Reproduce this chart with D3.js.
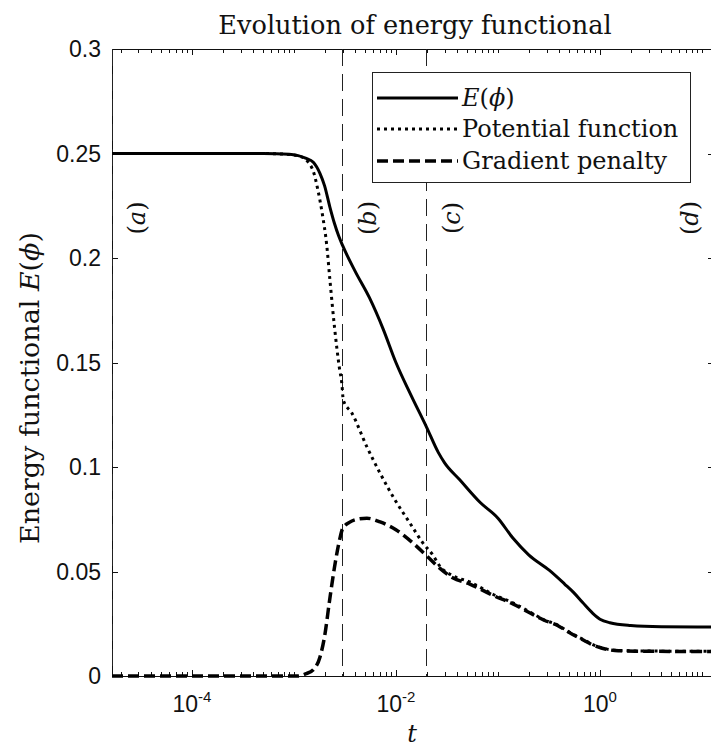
<!DOCTYPE html>
<html><head><meta charset="utf-8">
<script src="https://cdn.jsdelivr.net/npm/d3@7"></script>
<style>body{margin:0;background:#fff}svg{display:block}</style>
</head><body><svg id="c" width="711" height="747"></svg>
<script>
// ---------- data ----------
const titleText = "Evolution of energy functional";
const xLabelText = "t";
const yLabelText = "Energy functional ";
const yTicks = [0, 0.05, 0.1, 0.15, 0.2, 0.25, 0.3];
const yTickLabels = ["0", "0.05", "0.1", "0.15", "0.2", "0.25", "0.3"];
const xTicks = [1e-4, 1e-2, 1];
const xTickExps = ["-4", "-2", "0"];
const xDomain = [1.65e-5, 13.1];
const yDomain = [0, 0.3];
const stageT = [1.65e-5, 3.0e-3, 2.0e-2, 13.1];
const stageLabels = ["a", "b", "c", "d"];
const seriesNames = ["E(ϕ)", "Potential function", "Gradient penalty"];

const tE = [1.65e-5, 1e-4, 5e-4, 9e-4, 1.1e-3, 1.3e-3, 1.55e-3, 1.8e-3, 2.0e-3, 2.25e-3, 2.5e-3, 2.75e-3, 3.0e-3, 4.0e-3, 5.5e-3, 7.5e-3, 1.0e-2, 1.4e-2, 2.0e-2, 2.6e-2, 3.0e-2, 4.2e-2, 6.7e-2, 0.1, 0.14, 0.2, 0.32, 0.45, 0.55, 0.68, 0.85, 1.0, 1.25, 2.0, 4.0, 13.1];
const vE = [0.25, 0.25, 0.25, 0.2497, 0.249, 0.2478, 0.2458, 0.2405, 0.2345, 0.2245, 0.2165, 0.2105, 0.2060, 0.1935, 0.181, 0.166, 0.150, 0.1345, 0.119, 0.107, 0.102, 0.094, 0.083, 0.0755, 0.066, 0.058, 0.0505, 0.044, 0.040, 0.035, 0.030, 0.0272, 0.0255, 0.0242, 0.0236, 0.0234];

const tP = [1.65e-5, 1e-4, 5e-4, 9e-4, 1.2e-3, 1.4e-3, 1.55e-3, 1.72e-3, 1.9e-3, 2.1e-3, 2.25e-3, 2.5e-3, 2.8e-3, 2.95e-3, 3.05e-3, 3.7e-3, 5.2e-3, 7.0e-3, 9.8e-3, 1.37e-2, 1.84e-2, 2.3e-2, 2.7e-2, 3.6e-2, 5.3e-2, 9e-2, 0.14, 0.2, 0.28, 0.38, 0.5, 0.7, 0.85, 1.05, 1.4, 2.2, 13.1];
const vP = [0.25, 0.25, 0.25, 0.2495, 0.2483, 0.2455, 0.2415, 0.2325, 0.221, 0.206, 0.19, 0.167, 0.147, 0.140, 0.132, 0.1258, 0.1096, 0.097, 0.0842, 0.0732, 0.0636, 0.0579, 0.0525, 0.048, 0.045, 0.039, 0.035, 0.031, 0.027, 0.0245, 0.021, 0.0172, 0.015, 0.0134, 0.0123, 0.012, 0.0118];

const tG = [1.65e-5, 1e-4, 5e-4, 1.1e-3, 1.3e-3, 1.55e-3, 1.8e-3, 2.0e-3, 2.25e-3, 2.5e-3, 2.8e-3, 3.0e-3, 3.5e-3, 4.2e-3, 5.2e-3, 7.0e-3, 1.0e-2, 1.47e-2, 2.0e-2, 2.7e-2, 3.6e-2, 5.3e-2, 9e-2, 0.14, 0.2, 0.28, 0.38, 0.5, 0.7, 0.85, 1.05, 1.4, 2.2, 13.1];
const vG = [0, 0, 0, 0, 0.001, 0.003, 0.009, 0.019, 0.037, 0.052, 0.065, 0.0705, 0.0735, 0.075, 0.0755, 0.0737, 0.070, 0.0636, 0.0575, 0.0515, 0.047, 0.044, 0.0385, 0.0345, 0.0305, 0.0268, 0.0243, 0.0208, 0.017, 0.0148, 0.0133, 0.0122, 0.0119, 0.0117];

// ---------- layout ----------
const m = {l: 112, t: 49, r: 714, b: 676};
const serif = "'DejaVu Serif', serif";
const sans = "'Liberation Sans', Arial, sans-serif";
const ink = "#111";

const x = d3.scaleLog().domain(xDomain).range([m.l, m.r]);
const y = d3.scaleLinear().domain(yDomain).range([m.b, m.t]);
const svg = d3.select("#c");

svg.append("rect").attr("width", 711).attr("height", 747).attr("fill", "#fff");
svg.append("defs").append("clipPath").attr("id", "clip")
  .append("rect").attr("x", m.l).attr("y", m.t - 2).attr("width", m.r - m.l).attr("height", m.b - m.t + 4);

// minor log ticks
const minor = [];
for (let d = -5; d <= 1; d++) for (let k = 1; k <= 9; k++) {
  const v = k * Math.pow(10, d);
  if (v >= xDomain[0] && v <= xDomain[1] && !xTicks.some(t => Math.abs(t - v) / v < 1e-9)) minor.push(v);
}

function styleAxis(g) {
  g.selectAll("path,line").attr("stroke", ink).attr("stroke-width", 1).attr("shape-rendering", "crispEdges");
  g.selectAll("text").remove();
}
svg.append("g").attr("transform", `translate(0,${m.b})`)
  .call(d3.axisBottom(x).tickValues(xTicks).tickSize(-6).tickSizeOuter(0)).call(styleAxis);
svg.append("g").attr("transform", `translate(0,${m.b})`)
  .call(d3.axisBottom(x).tickValues(minor).tickSize(-4).tickSizeOuter(0)).call(styleAxis);
svg.append("g").attr("transform", `translate(0,${m.t})`)
  .call(d3.axisTop(x).tickValues(xTicks).tickSize(-6).tickSizeOuter(0)).call(styleAxis);
svg.append("g").attr("transform", `translate(0,${m.t})`)
  .call(d3.axisTop(x).tickValues(minor).tickSize(-4).tickSizeOuter(0)).call(styleAxis);
svg.append("g").attr("transform", `translate(${m.l},0)`)
  .call(d3.axisLeft(y).tickValues(yTicks).tickSize(-6).tickSizeOuter(0)).call(styleAxis);
svg.append("g").attr("transform", `translate(${m.r},0)`)
  .call(d3.axisRight(y).tickValues(yTicks).tickSize(-6).tickSizeOuter(0)).call(styleAxis);

// y tick labels
svg.append("g").selectAll("text").data(yTicks).join("text")
  .attr("x", m.l - 11).attr("y", d => y(d)).attr("dy", "0.36em")
  .attr("text-anchor", "end").attr("font-family", sans).attr("font-size", 23).attr("fill", ink)
  .text((d, i) => yTickLabels[i]);

// x tick labels with superscripts
const xl = svg.append("g").selectAll("text").data(xTicks).join("text")
  .attr("x", d => x(d)).attr("y", m.b + 36)
  .attr("text-anchor", "middle").attr("font-family", sans).attr("font-size", 23).attr("fill", ink);
xl.append("tspan").text("10");
xl.append("tspan").attr("dy", -10).attr("font-size", 15).text((d, i) => xTickExps[i]);

// stage dashed lines
svg.append("g").selectAll("line").data(stageT).join("line")
  .attr("x1", d => x(d)).attr("x2", d => x(d)).attr("y1", m.t).attr("y2", m.b)
  .attr("stroke", "#222").attr("stroke-width", 1).attr("stroke-dasharray", "17,8")
  .attr("shape-rendering", "crispEdges");

// stage labels
const sl = svg.append("g").selectAll("text").data(stageT).join("text")
  .attr("transform", (d, i) => `translate(${x(d) + (i === stageT.length - 1 ? -24 : 25)},218) rotate(-90)`)
  .attr("text-anchor", "middle").attr("dy", "0.35em")
  .attr("font-family", serif).attr("font-size", 24).attr("fill", ink);
sl.append("tspan").text("(");
sl.append("tspan").attr("font-style", "italic").text((d, i) => stageLabels[i]);
sl.append("tspan").text(")");

// series
const series = [
  {t: tE, v: vE, w: 3, dash: null},
  {t: tP, v: vP, w: 3, dash: "3,4"},
  {t: tG, v: vG, w: 3.5, dash: "11,5"}
];
const line = d3.line().x(d => x(d[0])).y(d => y(d[1])).curve(d3.curveMonotoneX);
const lg = svg.append("g").attr("clip-path", "url(#clip)");
series.forEach(s => {
  lg.append("path").datum(s.t.map((t, i) => [t, s.v[i]]))
    .attr("d", line).attr("fill", "none").attr("stroke", "#000")
    .attr("stroke-width", s.w).attr("stroke-dasharray", s.dash);
});

// legend
const leg = svg.append("g").attr("transform", "translate(372,72)");
leg.append("rect").attr("width", 318).attr("height", 110).attr("fill", "#fff")
  .attr("stroke", "#222").attr("stroke-width", 1).attr("shape-rendering", "crispEdges");
const rowsY = [26, 57, 89];
series.forEach((s, i) => {
  leg.append("line").attr("x1", 5).attr("x2", 86).attr("y1", rowsY[i]).attr("y2", rowsY[i])
    .attr("stroke", "#000").attr("stroke-width", s.w).attr("stroke-dasharray", s.dash);
  const t = leg.append("text").attr("x", 90).attr("y", rowsY[i] + 8)
    .attr("font-family", serif).attr("font-size", 24).attr("fill", ink);
  if (i === 0) {
    t.append("tspan").attr("font-style", "italic").text("E");
    t.append("tspan").text("(");
    t.append("tspan").attr("font-style", "italic").text("ϕ");
    t.append("tspan").text(")");
  } else t.text(seriesNames[i]);
});

// title
svg.append("text").attr("x", 415).attr("y", 34).attr("text-anchor", "middle")
  .attr("font-family", serif).attr("font-size", 25.6).attr("fill", ink).text(titleText);
// x label
svg.append("text").attr("x", 412).attr("y", 742).attr("text-anchor", "middle")
  .attr("font-family", serif).attr("font-style", "italic").attr("font-size", 24).attr("fill", ink).text(xLabelText);
// y label
const yl = svg.append("text").attr("transform", `translate(39,388) rotate(-90)`)
  .attr("text-anchor", "middle").attr("font-family", serif).attr("font-size", 24).attr("fill", ink);
yl.append("tspan").text(yLabelText);
yl.append("tspan").attr("font-style", "italic").text("E");
yl.append("tspan").text("(");
yl.append("tspan").attr("font-style", "italic").text("ϕ");
yl.append("tspan").text(")");
const ylen = yl.node().getComputedTextLength();
if (ylen > 0) yl.attr("font-size", 24 * 312 / ylen);
</script></body></html>
